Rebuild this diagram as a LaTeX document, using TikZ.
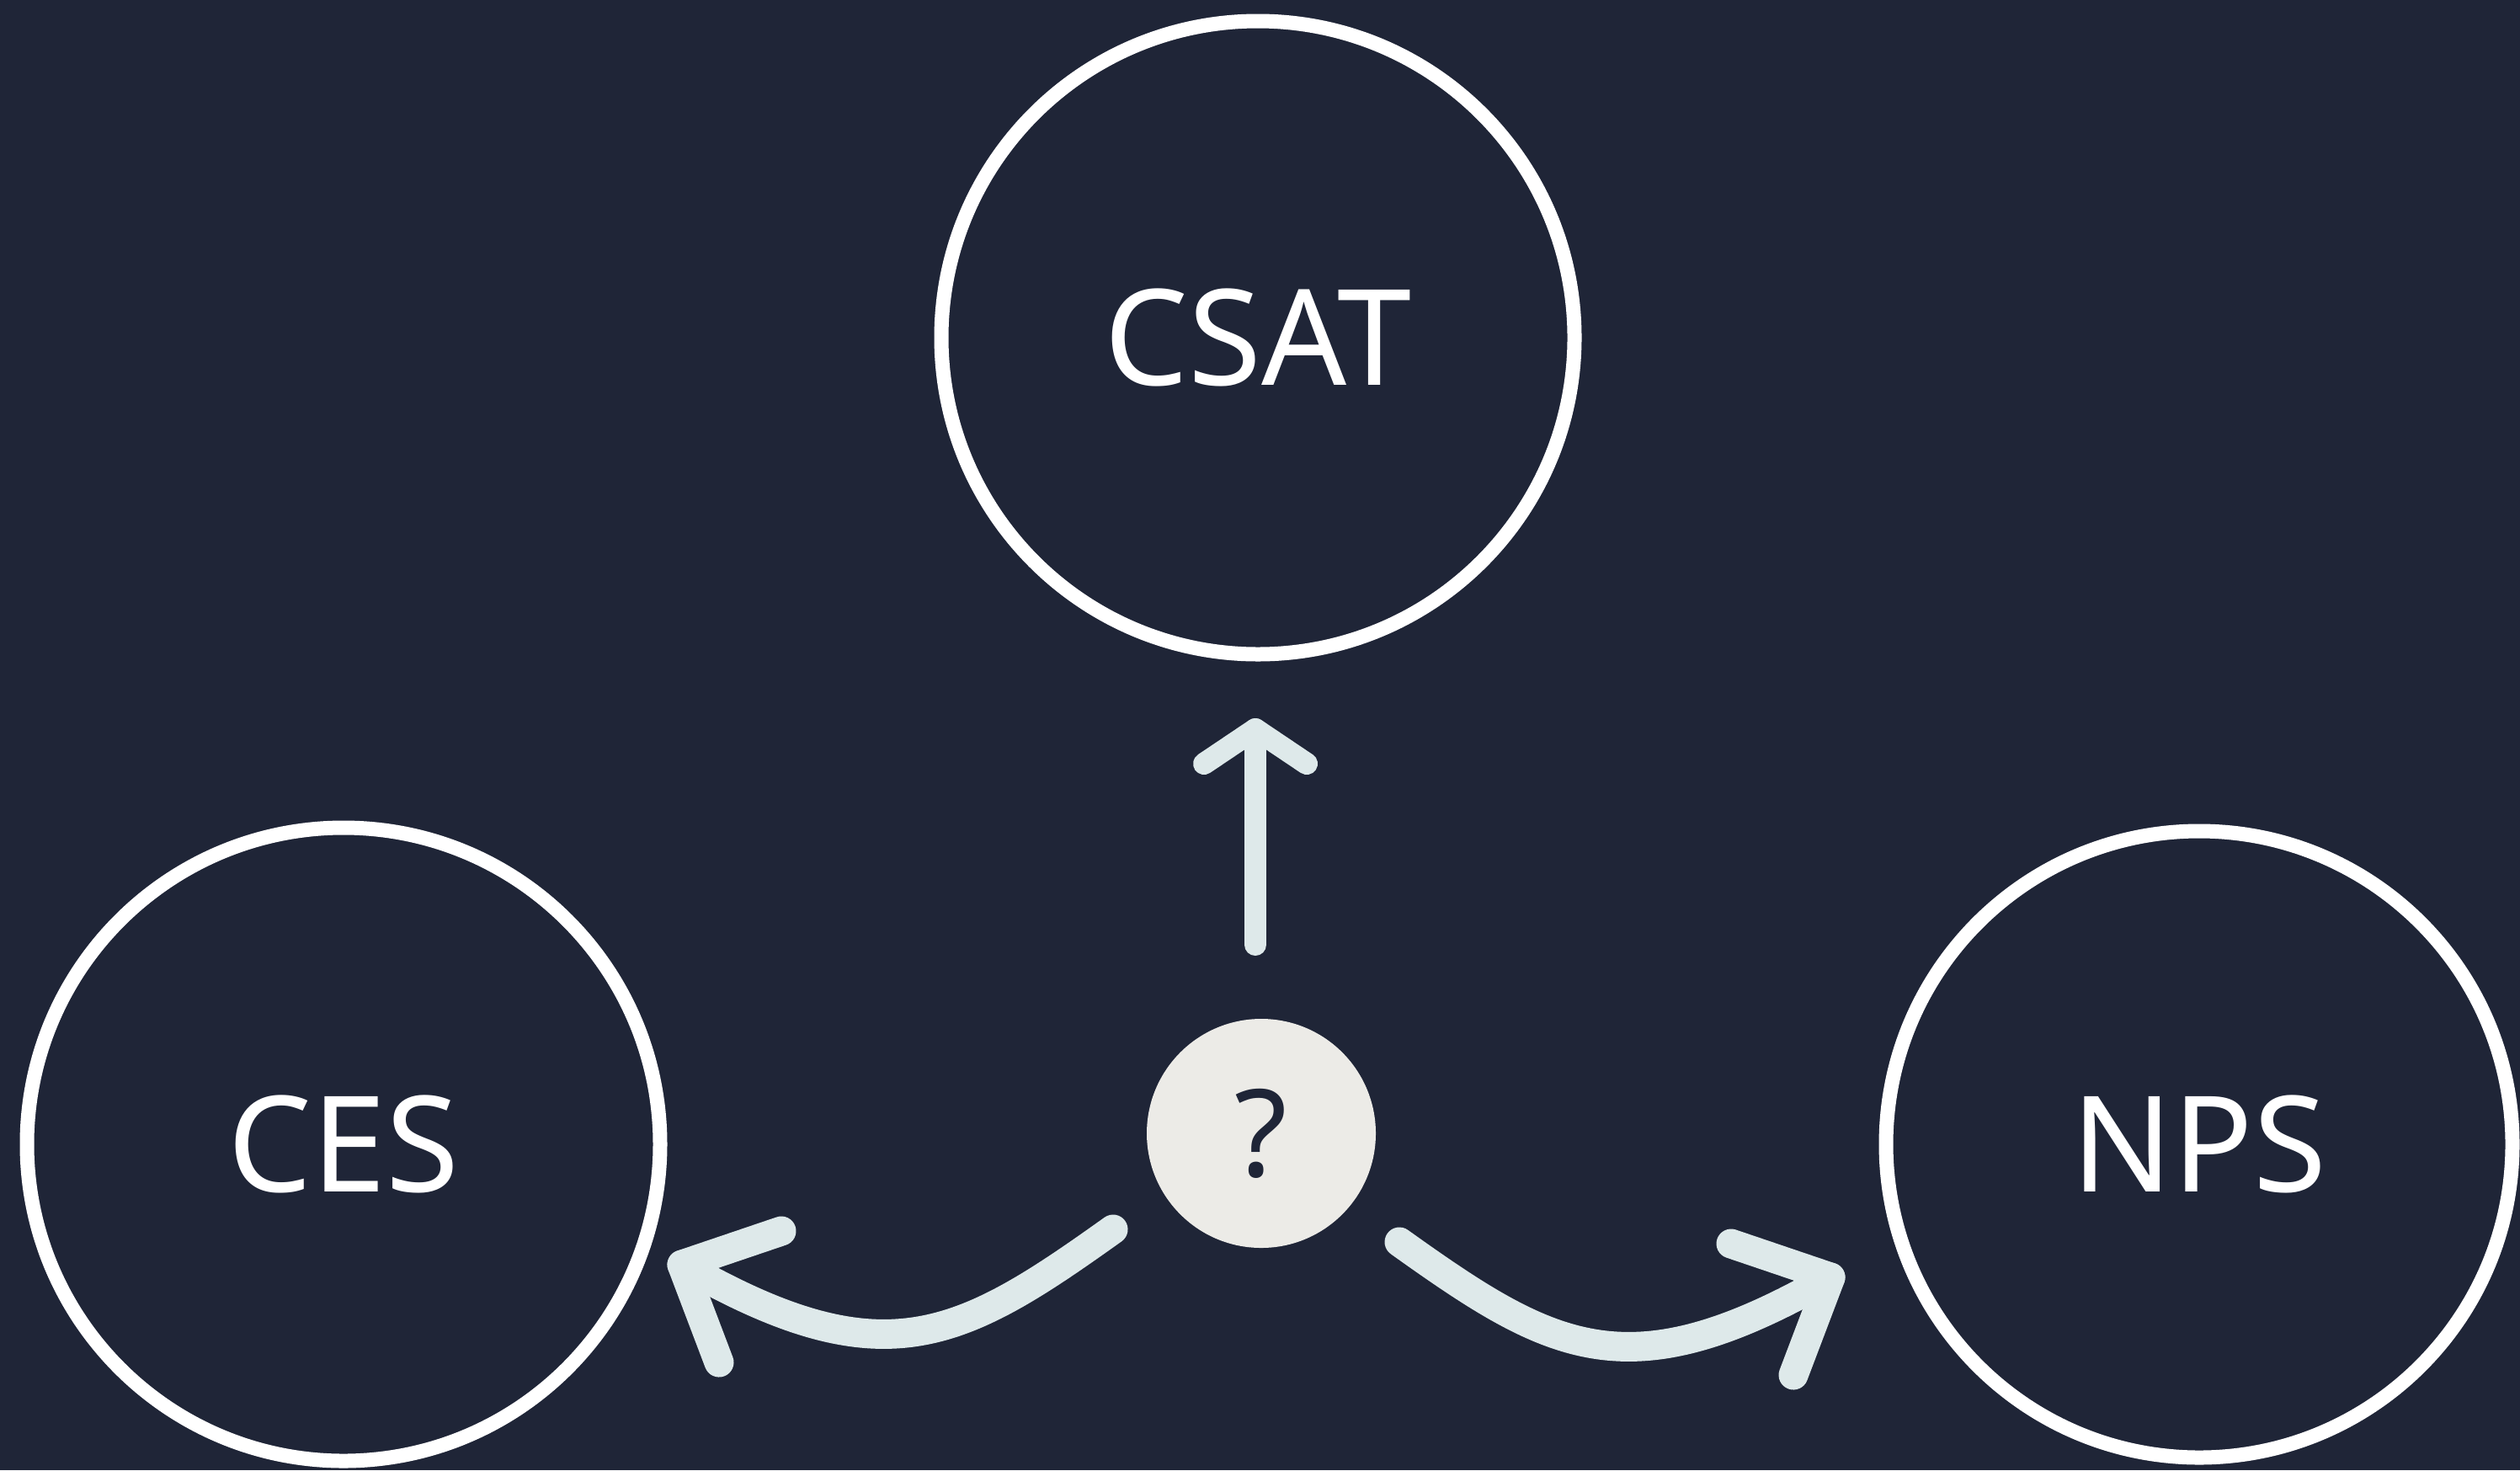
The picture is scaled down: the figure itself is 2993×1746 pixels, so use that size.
\documentclass[tikz,border=0pt]{standalone}
\usepackage{fontspec}
\setmainfont{Noto Sans}
\definecolor{bg}{HTML}{1F2537}
\definecolor{arrowc}{HTML}{DEE9EA}
\definecolor{qfill}{HTML}{ECEBE7}
\begin{document}
\begin{tikzpicture}[x=0.25pt,y=-0.25pt,
  metric/.style={circle, draw=white, line width=4.25pt, minimum size=188pt,
    inner sep=0pt, text=white, font=\fontsize{39.6}{44}\selectfont},
  qnode/.style={circle, fill=qfill, minimum size=68pt, inner sep=0pt,
    text=bg, font=\fontsize{36}{40}\selectfont},
  thinarrow/.style={draw=arrowc, line width=6.5pt, line cap=round, line join=round},
  thickarrow/.style={draw=arrowc, line width=8.75pt, line cap=round, line join=round}]
  % canvas
  \fill[bg] (0,0) rectangle (2993,1746);
  \useasboundingbox (0,0) rectangle (2993,1746);

  % metric circles
  \node[metric] (csat) at (1494,401) {CSAT};
  \node[metric] (ces) at (408,1359) {CES};
  \node[metric, minimum size=186pt] (nps) at (2612,1359) {NPS};

  % unknown centre
  \node[qnode] (q) at (1498,1346) {?};

  % straight arrow up
  \coordinate (upbase) at (1491,1122);
  \coordinate (uptip) at (1491,866);
  \coordinate (upl) at (1430,907);
  \coordinate (upr) at (1552,907);
  \draw[thinarrow] (upbase) -- (uptip);
  \draw[thinarrow] (upl) -- (uptip) -- (upr);

  % curved arrow to the left
  \coordinate (ls) at (1322,1460);
  \coordinate (le) at (810,1502);
  \coordinate (la) at (928,1462);
  \coordinate (lb) at (854,1618);
  \draw[thickarrow] (ls) .. controls (1140,1590) and (1050,1640) .. (le);
  \draw[thickarrow] (la) -- (le) -- (lb);

  % curved arrow to the right
  \coordinate (rs) at (1662,1475);
  \coordinate (re) at (2174,1517);
  \coordinate (ra) at (2056,1477);
  \coordinate (rb) at (2130,1633);
  \draw[thickarrow] (rs) .. controls (1844,1605) and (1934,1655) .. (re);
  \draw[thickarrow] (ra) -- (re) -- (rb);
\end{tikzpicture}
\end{document}
